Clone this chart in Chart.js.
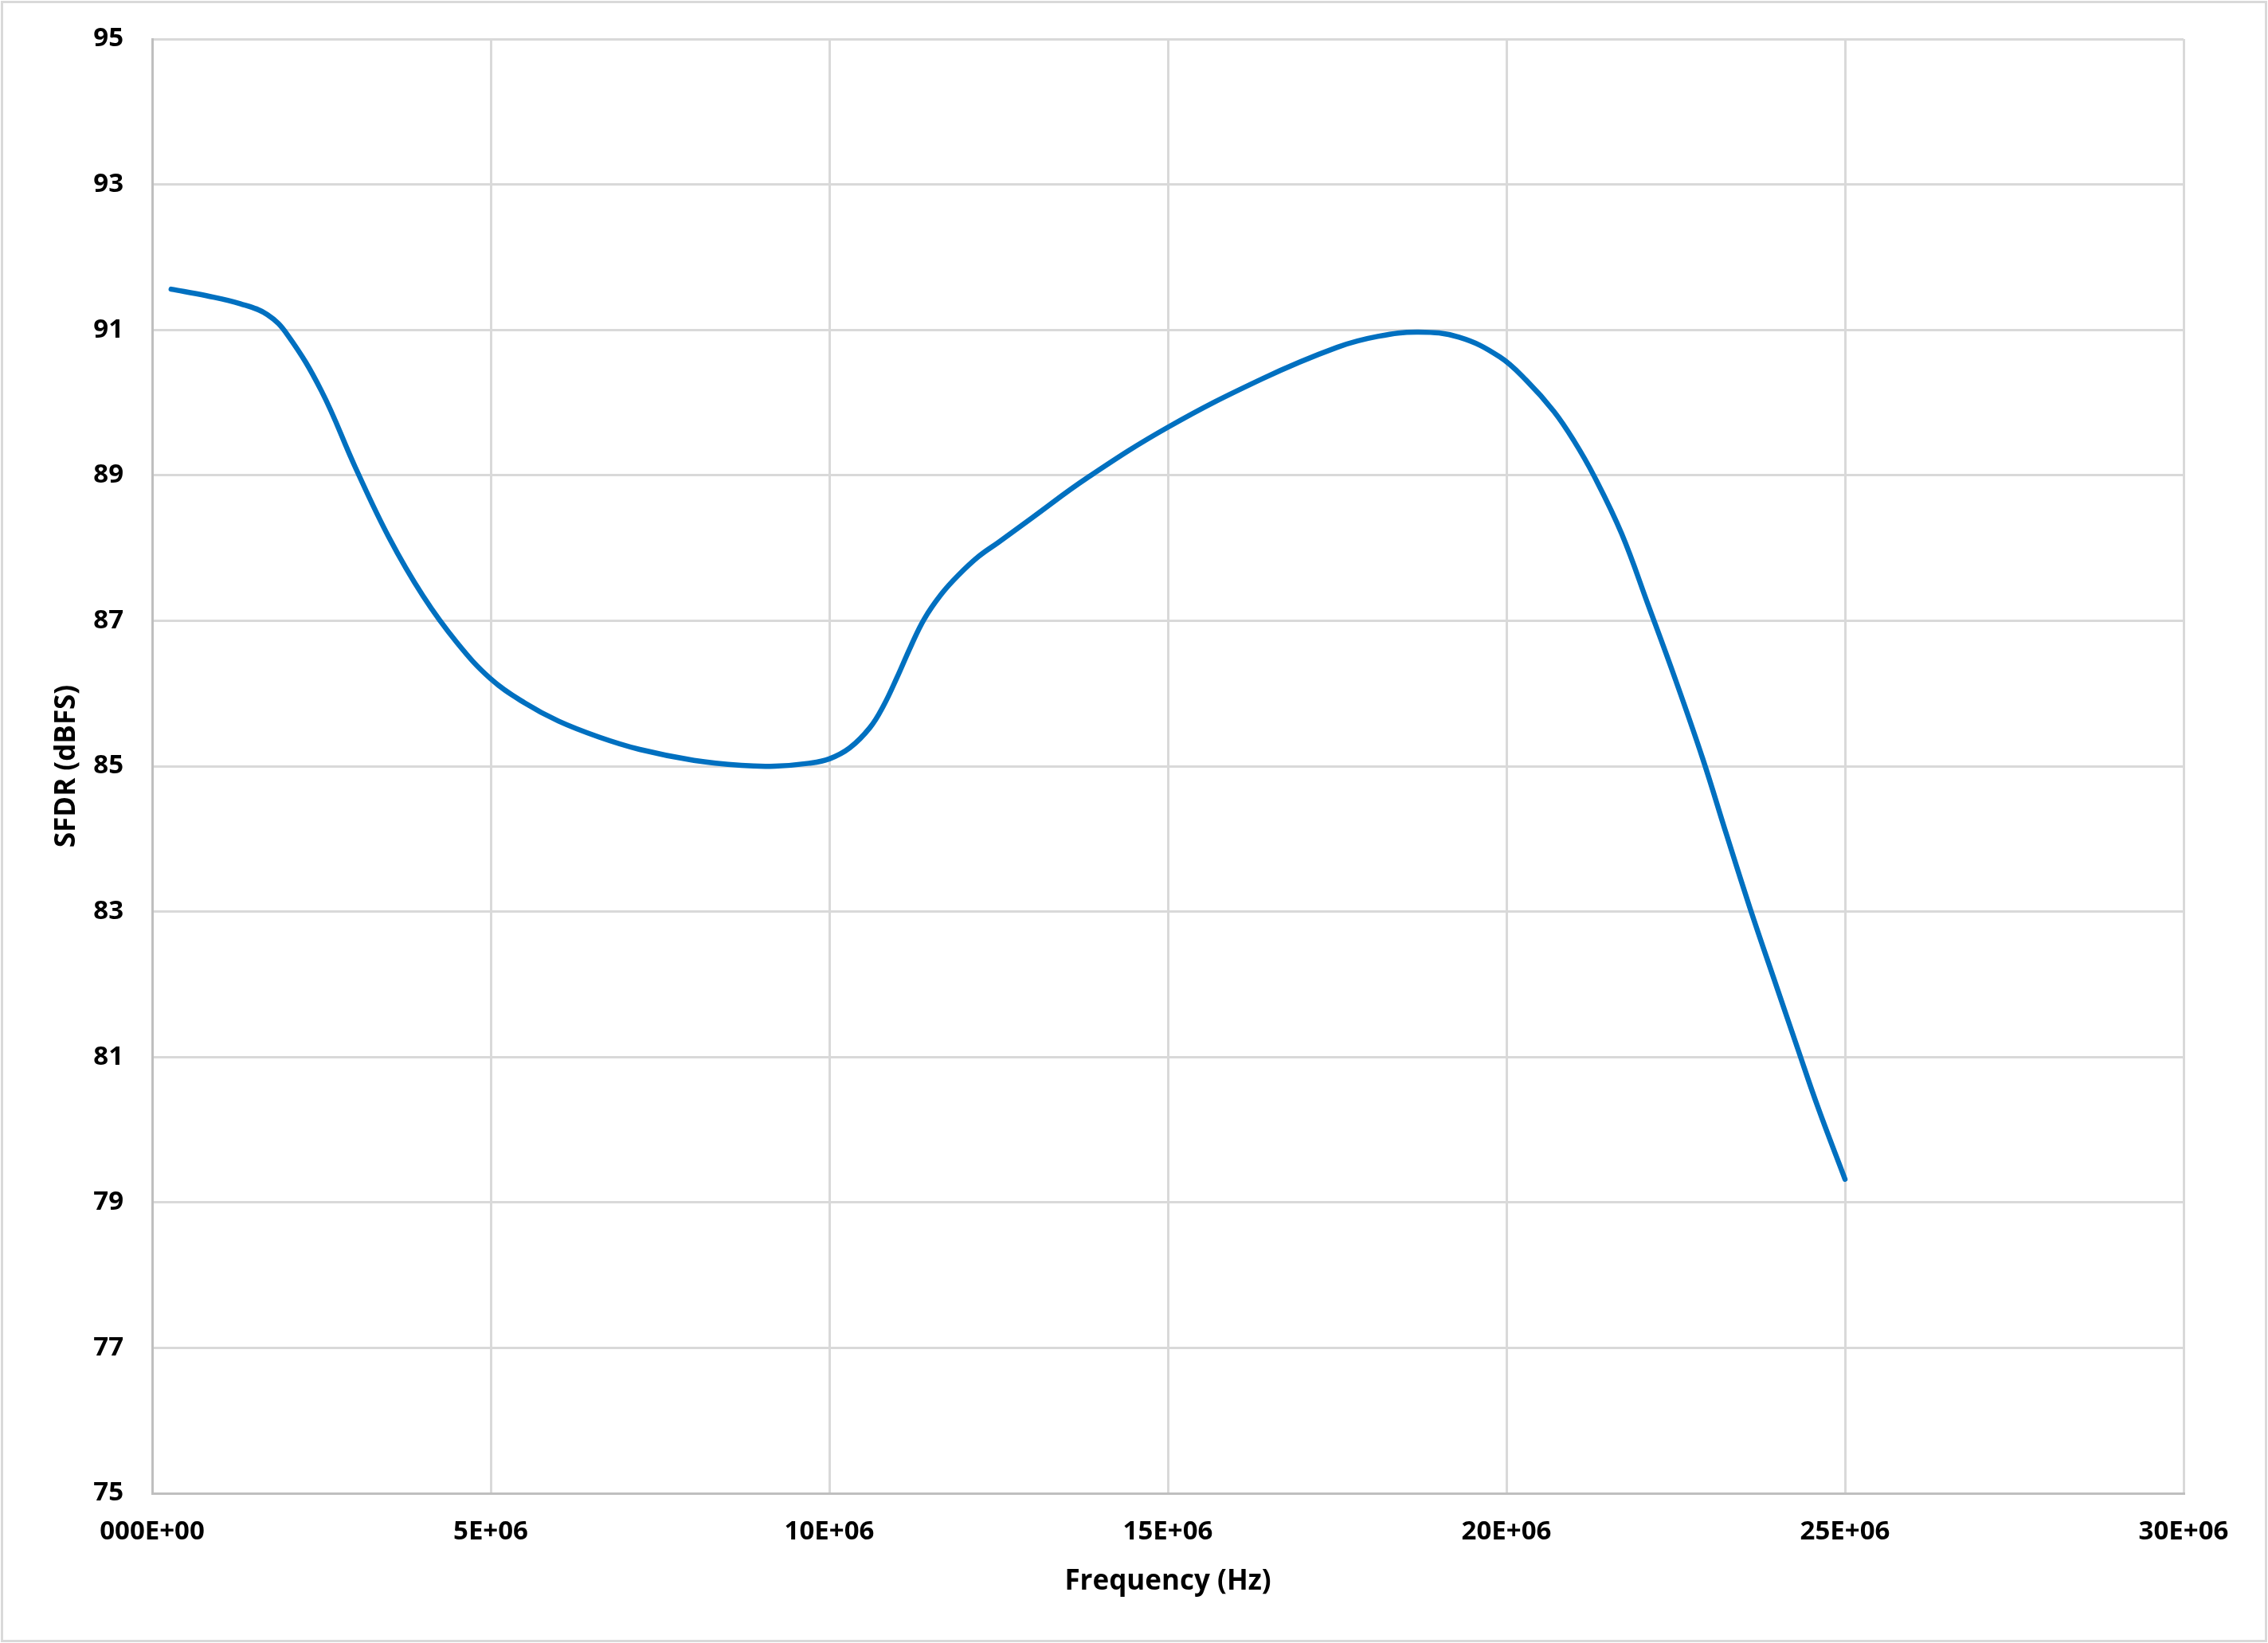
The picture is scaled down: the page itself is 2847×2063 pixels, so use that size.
<!DOCTYPE html>
<html>
<head>
<meta charset="utf-8">
<script src="https://cdn.jsdelivr.net/npm/chart.js@4.4.1/dist/chart.umd.min.js"></script>
<style>
  html, body { margin: 0; padding: 0; background: #ffffff; }
  canvas { display: block; }
</style>
</head>
<body>
<canvas id="chart" width="2847" height="2063"></canvas>
<script>
// frequency points (Hz) and SFDR (dBFS)
const freqHz = [
  0.28e6, 0.8e6, 1.3e6, 1.7e6, 2.0e6, 2.5e6, 3.0e6, 3.5e6, 4.0e6, 4.5e6,
  5.0e6, 5.5e6, 6.0e6, 6.6e6, 7.2e6, 8.0e6, 8.7e6, 9.2e6, 9.7e6, 10.0e6,
  10.3e6, 10.6e6, 10.8e6, 11.0e6, 11.2e6, 11.4e6, 11.65e6, 11.9e6, 12.2e6, 12.5e6,
  13.0e6, 13.8e6, 15.0e6, 16.4e6, 17.5e6, 18.1e6, 18.7e6, 19.3e6, 19.9e6, 20.3e6,
  20.7e6, 21.0e6, 21.3e6, 21.7e6, 22.1e6, 22.5e6, 22.9e6, 23.25e6, 23.6e6, 24.0e6,
  24.3e6, 24.6e6, 25.0e6
];
const sfdr = [
  91.56, 91.47, 91.36, 91.21, 90.93, 90.16, 89.11, 88.14, 87.34, 86.70,
  86.20, 85.87, 85.62, 85.40, 85.23, 85.08, 85.01, 85.00, 85.04, 85.10,
  85.25, 85.53, 85.83, 86.22, 86.64, 87.02, 87.36, 87.62, 87.88, 88.08,
  88.42, 88.96, 89.66, 90.33, 90.76, 90.91, 90.97, 90.90, 90.63, 90.30,
  89.88, 89.47, 88.98, 88.20, 87.20, 86.18, 85.10, 84.06, 83.04, 81.94,
  81.12, 80.31, 79.32
];

const xTickLabels = ["000E+00", "5E+06", "10E+06", "15E+06", "20E+06", "25E+06", "30E+06"];
const yTickLabels = ["75", "77", "79", "81", "83", "85", "87", "89", "91", "93", "95"];

const points = freqHz.map((f, i) => ({ x: f, y: sfdr[i] }));

const tickFont = { family: "'Open Sans', 'Noto Sans', sans-serif", size: 33, weight: "bold" };
const titleFont = { family: "'Open Sans', 'Noto Sans', sans-serif", size: 35, weight: "bold" };

// white background + light outer frame, like the Excel chart area
const frame = {
  id: "frame",
  beforeDraw(chart) {
    const ctx = chart.ctx;
    ctx.save();
    ctx.fillStyle = "#ffffff";
    ctx.fillRect(0, 0, chart.width, chart.height);
    ctx.strokeStyle = "#d9d9d9";
    ctx.lineWidth = 3;
    ctx.strokeRect(2.5, 2.5, chart.width - 5, chart.height - 5);
    ctx.restore();
  }
};

new Chart(document.getElementById("chart"), {
  type: "line",
  data: {
    datasets: [{
      data: points,
      borderColor: "#0070c0",
      borderWidth: 6.5,
      borderCapStyle: "round",
      borderJoinStyle: "round",
      pointRadius: 0,
      tension: 0.4,
      fill: false
    }]
  },
  options: {
    responsive: false,
    animation: false,
    layout: { padding: { top: 49, right: 106, bottom: 0, left: 0 } },
    plugins: { legend: { display: false }, tooltip: { enabled: false } },
    scales: {
      x: {
        type: "linear",
        min: 0,
        max: 30e6,
        afterFit(scale) {
          scale.height = 188;
          scale.paddingLeft = 0;
          scale.paddingRight = 0;
        },
        grid: { color: "#d9d9d9", lineWidth: 3, drawTicks: false },
        border: { color: "#bfbfbf", width: 3 },
        ticks: {
          stepSize: 5e6,
          padding: 29,
          color: "#000000",
          font: tickFont,
          maxRotation: 0,
          callback: (v) => xTickLabels[Math.round(v / 5e6)]
        },
        title: {
          display: true,
          text: "Frequency (Hz)",
          color: "#000000",
          font: titleFont,
          padding: { top: 0, bottom: 56 }
        }
      },
      y: {
        min: 75,
        max: 95,
        afterFit(scale) {
          scale.width = 191;
          scale.paddingTop = 0;
          scale.paddingBottom = 0;
        },
        grid: { color: "#d9d9d9", lineWidth: 3, drawTicks: false },
        border: { color: "#bfbfbf", width: 3 },
        ticks: {
          stepSize: 2,
          padding: 36,
          color: "#000000",
          font: tickFont,
          callback: (v) => yTickLabels[Math.round((v - 75) / 2)]
        },
        title: {
          display: true,
          text: "SFDR (dBFS)",
          color: "#000000",
          font: titleFont,
          padding: { top: 63, bottom: 0 }
        }
      }
    }
  },
  plugins: [frame]
});
</script>
</body>
</html>
